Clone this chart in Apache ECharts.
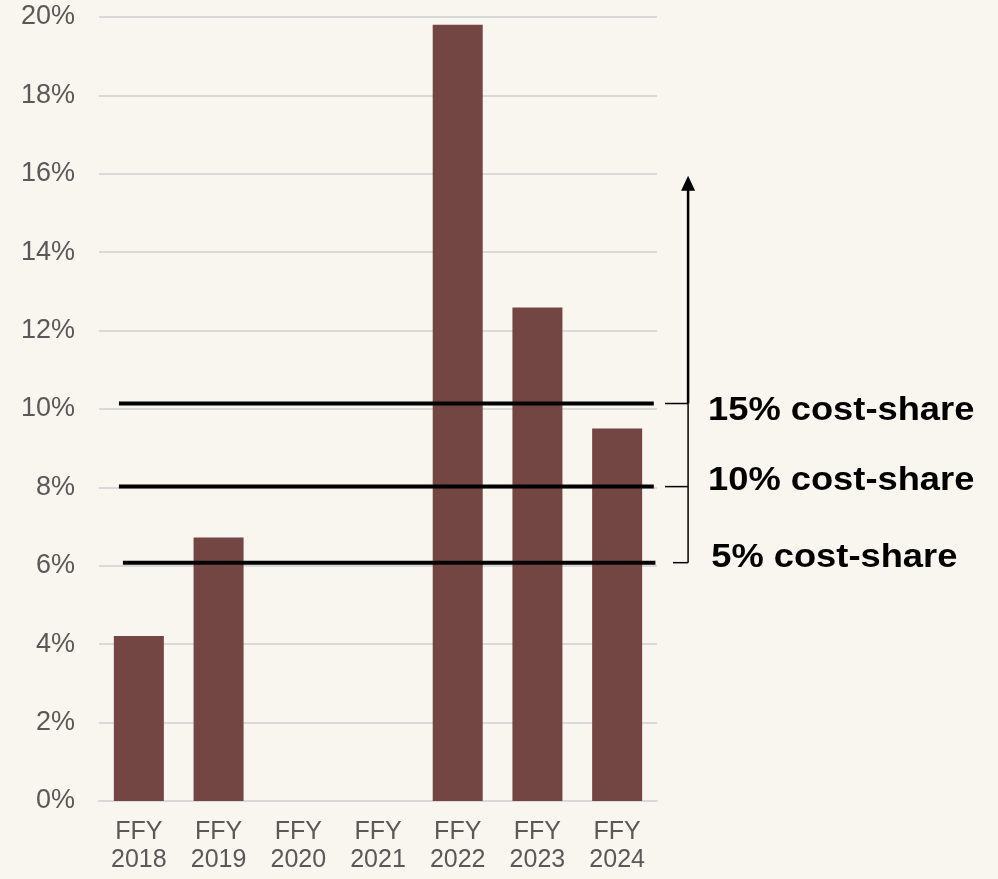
<!DOCTYPE html>
<html>
<head>
<meta charset="utf-8">
<script src="https://cdn.jsdelivr.net/npm/echarts@6/dist/echarts.min.js"></script>
<style>
  html, body { margin: 0; padding: 0; background: #f9f5ef; }
  #chart { width: 998px; height: 879px; }
</style>
</head>
<body>
<div id="chart"></div>
<script>
// chart data
const categories = ['FFY\n2018', 'FFY\n2019', 'FFY\n2020', 'FFY\n2021', 'FFY\n2022', 'FFY\n2023', 'FFY\n2024'];
const shareValues = [4.21, 6.72, null, null, 19.8, 12.59, 9.5];
const thresholdLabels = ['15% cost-share', '10% cost-share', '5% cost-share'];
const thresholdLevels = [10.14, 8.02, 6.08];
const thresholdStart = [0.25, 0.25, 0.3];   // in category units
const thresholdEnd = [6.96, 6.96, 6.98];
const arrowTop = 15.95;

const myChart = echarts.init(document.getElementById('chart'));

const txtColor = '#595959';
const gridColor = '#d9d9d9';

// horizontal threshold lines
const lineSeries = thresholdLevels.map(function (lvl, i) {
  return {
    type: 'line',
    xAxisIndex: 1,
    yAxisIndex: 0,
    data: [[thresholdStart[i], lvl], [thresholdEnd[i], lvl]],
    symbol: 'none',
    silent: true,
    clip: false,
    lineStyle: { color: '#000', width: 4 },
    z: 5
  };
});

// bracket, arrow and labels
const bracketX = 7.39;
const tickStart = [7.1, 7.1, 7.2];
const labelX = [7.64, 7.64, 7.68];
const labelOffset = [7, -6, -5];   // px

const annoSeries = {
  type: 'custom',
  xAxisIndex: 1,
  yAxisIndex: 0,
  data: [0],
  silent: true,
  clip: false,
  z: 6,
  renderItem: function (params, api) {
    const children = [];
    const top = api.coord([bracketX, arrowTop]);
    const bottom = api.coord([bracketX, thresholdLevels[2]]);
    const mid = api.coord([bracketX, thresholdLevels[0]]);
    // thin bracket part
    children.push({
      type: 'line',
      shape: { x1: mid[0], y1: mid[1], x2: bottom[0], y2: bottom[1] },
      style: { stroke: '#000', lineWidth: 1.5 }
    });
    // arrow shaft
    children.push({
      type: 'line',
      shape: { x1: mid[0], y1: mid[1], x2: top[0], y2: top[1] + 14 },
      style: { stroke: '#000', lineWidth: 2.5 }
    });
    // arrow head
    children.push({
      type: 'polygon',
      shape: { points: [[top[0], top[1]], [top[0] - 7, top[1] + 15], [top[0] + 7, top[1] + 15]] },
      style: { fill: '#000' }
    });
    thresholdLevels.forEach(function (lvl, i) {
      const a = api.coord([tickStart[i], lvl]);
      const b = api.coord([bracketX, lvl]);
      children.push({
        type: 'line',
        shape: { x1: a[0], y1: a[1], x2: b[0], y2: b[1] },
        style: { stroke: '#000', lineWidth: 1.5 }
      });
      const p = api.coord([labelX[i], lvl]);
      children.push({
        type: 'text',
        x: p[0],
        y: p[1] + labelOffset[i],
        scaleX: 1.1,
        style: {
          text: thresholdLabels[i],
          x: 0,
          y: 0,
          fill: '#000',
          font: 'bold 33px "Liberation Sans", Arial, sans-serif',
          textAlign: 'left',
          textVerticalAlign: 'middle'
        }
      });
    });
    return { type: 'group', children: children };
  }
};

myChart.setOption({
  backgroundColor: '#f9f5ef',
  animation: false,
  grid: { left: 99, right: 341, top: 17, bottom: 78, containLabel: false },
  xAxis: [
    {
      type: 'category',
      data: categories,
      axisLine: { show: true, lineStyle: { color: gridColor, width: 2 } },
      axisTick: { show: false },
      axisLabel: {
        color: txtColor,
        fontSize: 25,
        lineHeight: 28,
        margin: 17,
        fontFamily: '"Liberation Sans", Arial, sans-serif'
      }
    },
    {
      type: 'value',
      min: 0,
      max: 7,
      show: false
    }
  ],
  yAxis: {
    type: 'value',
    min: 0,
    max: 20,
    interval: 2,
    axisLine: { show: false },
    axisTick: { show: false },
    splitLine: { lineStyle: { color: gridColor, width: 2 } },
    axisLabel: {
      color: txtColor,
      fontSize: 27,
      margin: 24,
      fontFamily: '"Liberation Sans", Arial, sans-serif',
      formatter: '{value}%'
    }
  },
  series: [
    {
      type: 'bar',
      data: shareValues,
      barWidth: 50,
      itemStyle: { color: '#734644' },
      silent: true,
      z: 3
    }
  ].concat(lineSeries, [annoSeries])
});
</script>
</body>
</html>
